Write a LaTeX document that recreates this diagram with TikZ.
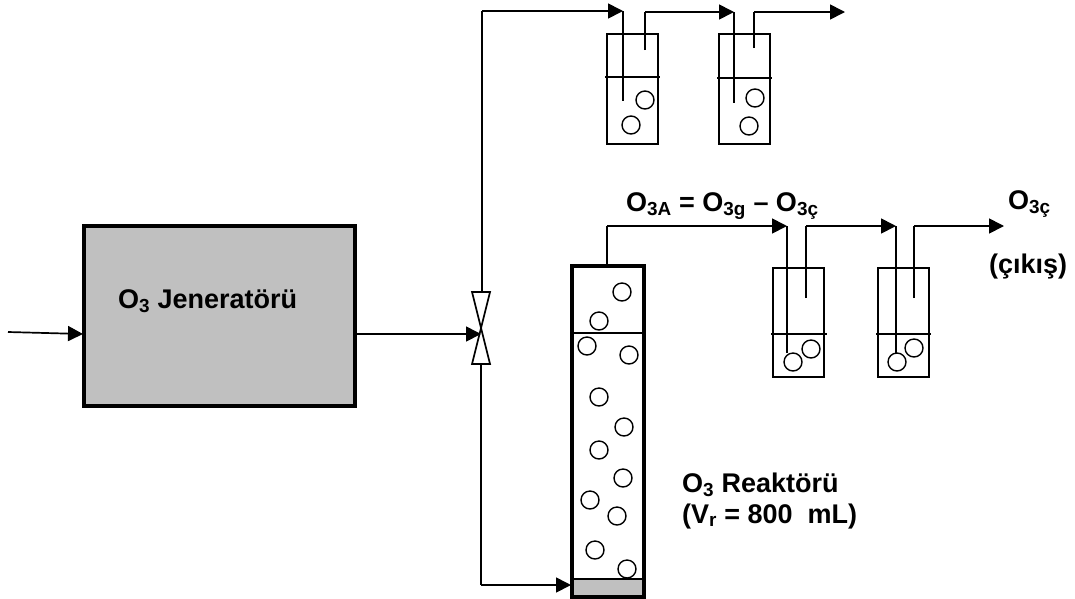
\documentclass[tikz,border=0pt]{standalone}
\usepackage{fontspec}
\setmainfont{Liberation Sans}
\usepackage{xcolor}
\usetikzlibrary{arrows.meta}

\definecolor{boxgray}{HTML}{C0C0C0}
\tikzset{
  pipe/.style={line width=1.7pt, black},
  flow/.style={pipe, -{Triangle[length=15pt, width=15pt]}},
  thickwall/.style={draw=black, line width=3.2pt},
  bottlewall/.style={draw=black, line width=1.9pt},
  bottlebox/.style={bottlewall, minimum width=51pt, minimum height=110pt, inner sep=0pt, outer sep=0pt},
  level/.style={line width=1.7pt, black},
  bubble/.style={circle, draw=black, line width=1.4pt, minimum size=18pt, inner sep=0pt, outer sep=0pt},
  label/.style={font=\fontsize{27pt}{32pt}\selectfont\bfseries, anchor=base west, inner sep=0pt, outer sep=0pt},
}

\begin{document}
\begin{tikzpicture}[x=1pt, y=-1pt]
  \useasboundingbox (0, 0) rectangle (1075, 598);

  % Generator
  \node[thickwall, fill=boxgray, minimum width=271pt, minimum height=180pt, inner sep=0pt, outer sep=0pt] (generator) at (219.5, 316) {};
  \node[label] (generatorlabel) at (118, 308) {O\textsubscript{3} Jeneratörü};
  \coordinate (gasin) at (8, 332);
  \coordinate (generatorin) at (83, 334);
  \coordinate (generatorout) at (356, 334);
  \draw[flow] (gasin) -- (generatorin);

  % Valve
  \coordinate (valvecentre) at (481, 333);
  \coordinate (valvetopleft) at (472, 292);
  \coordinate (valvetopright) at (490, 292);
  \coordinate (valvebottomleft) at (472, 364);
  \coordinate (valvebottomright) at (490, 364);
  \draw[pipe, line join=miter] (valvetopleft) -- (valvetopright) -- (valvebottomleft) -- (valvebottomright) -- cycle;
  \draw[flow] (generatorout) -- (valvecentre |- generatorout);

  % Upper bottles
  \coordinate (upperturn) at (482, 11);
  \coordinate (dipa) at (623, 11);
  \coordinate (dipaend) at (623, 101);
  \coordinate (outa) at (645, 12);
  \coordinate (outaend) at (645, 50);
  \coordinate (dipb) at (734, 12);
  \coordinate (dipbend) at (734, 103);
  \coordinate (outb) at (754, 12);
  \coordinate (outbend) at (754, 48);
  \coordinate (upperexit) at (845, 12);
  \draw[pipe] (upperturn |- valvetopleft) -- (upperturn);
  \draw[flow] (upperturn) -- (dipa);
  \draw[pipe] (dipa) -- (dipaend);
  \draw[pipe] (outaend) -- (outa);
  \draw[flow] (outa) -- (dipb);
  \draw[pipe] (dipb) -- (dipbend);
  \draw[pipe] (outbend) -- (outb);
  \draw[flow] (outb) -- (upperexit);

  \node[bottlebox] (bottlea) at (632.5, 89) {};
  \node[bottlebox] (bottleb) at (744.5, 89) {};
  \draw[level] (605, 77) -- (660, 77);
  \draw[level] (717, 78) -- (772, 78);
  \node[bubble] (bubblea1) at (645, 100) {};
  \node[bubble] (bubblea2) at (631, 125) {};
  \node[bubble] (bubbleb1) at (755, 98) {};
  \node[bubble] (bubbleb2) at (749, 126) {};

  % Reactor
  \coordinate (reactorin) at (571, 585);
  \coordinate (lowerturn) at (481, 585);
  \draw[pipe] (lowerturn |- valvebottomleft) -- (lowerturn);
  \draw[flow] (lowerturn) -- (reactorin);
  \node[draw=black, line width=1.5pt, fill=boxgray, minimum width=72pt, minimum height=18pt, inner sep=0pt, outer sep=0pt] (diffuser) at (608, 588) {};
  \node[thickwall, minimum width=72pt, minimum height=331pt, inner sep=0pt, outer sep=0pt] (reactor) at (608, 431.5) {};
  \draw[level] (reactor.west |- 0, 333) -- (reactor.east |- 0, 333);
  \node[bubble] (bubble1) at (622, 292) {};
  \node[bubble] (bubble2) at (599, 321) {};
  \node[bubble] (bubble3) at (587, 346) {};
  \node[bubble] (bubble4) at (629, 355) {};
  \node[bubble] (bubble5) at (599, 397) {};
  \node[bubble] (bubble6) at (624, 427) {};
  \node[bubble] (bubble7) at (599, 450) {};
  \node[bubble] (bubble8) at (623, 478) {};
  \node[bubble] (bubble9) at (590, 500) {};
  \node[bubble] (bubble10) at (617, 516) {};
  \node[bubble] (bubble11) at (595, 550) {};
  \node[bubble] (bubble12) at (627, 569) {};

  % Lower bottles
  \coordinate (reactortop) at (607, 264);
  \coordinate (reactorturn) at (607, 226);
  \coordinate (dipc) at (787, 226);
  \coordinate (dipcend) at (787, 353);
  \coordinate (outc) at (806, 226);
  \coordinate (outcend) at (806, 298);
  \coordinate (dipd) at (896, 226);
  \coordinate (dipdend) at (896, 353);
  \coordinate (outd) at (914, 226);
  \coordinate (outdend) at (914, 298);
  \coordinate (lowerexit) at (1004, 226);
  \draw[pipe] (reactortop) -- (reactorturn);
  \draw[flow] (reactorturn) -- (dipc);
  \draw[pipe] (dipc) -- (dipcend);
  \draw[pipe] (outcend) -- (outc);
  \draw[flow] (outc) -- (dipd);
  \draw[pipe] (dipd) -- (dipdend);
  \draw[pipe] (outdend) -- (outd);
  \draw[flow] (outd) -- (lowerexit);

  \node[bottlebox, minimum height=109pt] (bottlec) at (798.5, 322.5) {};
  \node[bottlebox, minimum height=109pt] (bottled) at (903.5, 322.5) {};
  \draw[level] (771, 334) -- (827, 334);
  \draw[level] (876, 334) -- (931, 334);
  \node[bubble] (bubblec1) at (793, 362) {};
  \node[bubble] (bubblec2) at (811, 349) {};
  \node[bubble] (bubbled1) at (897, 362) {};
  \node[bubble] (bubbled2) at (914, 348) {};

  % Labels
  \node[label] (balancelabel) at (626, 211) {O\textsubscript{3A} = O\textsubscript{3g} – O\textsubscript{3ç}};
  \node[label] (exitlabel) at (1008, 209) {O\textsubscript{3ç}};
  \node[label] (exitword) at (989, 273) {(çıkış)};
  \node[label] (reactorlabel) at (682, 492) {O\textsubscript{3} Reaktörü};
  \node[label] (volumelabel) at (682, 523) {(V\textsubscript{r} = 800~ mL)};
\end{tikzpicture}
\end{document}
